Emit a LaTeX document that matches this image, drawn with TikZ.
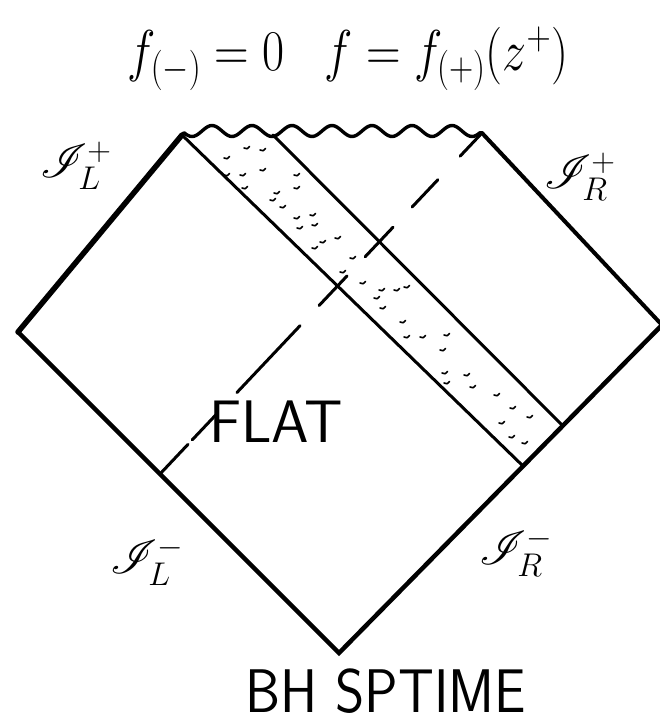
\RequirePackage{fix-cm}
\documentclass[tikz,border=0pt]{standalone}
\usepackage{fontspec}
\usepackage{mathrsfs}
\usetikzlibrary{calc}
\newcommand{\scrilabel}[2]{$\mathscr{I}^{\scriptscriptstyle #1}_{\scriptscriptstyle #2}$}
\begin{document}
\begin{tikzpicture}[x=1pt,y=-1pt,
  edgeline/.style={line width=4.5pt, line cap=round, line join=miter},
  stripline/.style={line width=3pt, line cap=round},
  waveline/.style={line width=3.4pt, line cap=round, line join=round},
  dashline/.style={line width=3pt, line cap=round},
  hatchmark/.style={line width=1.6pt, line cap=round},
  scri/.style={font=\fontsize{24.88}{28}\selectfont, inner sep=0pt, scale=1.9, transform shape},
  capslabel/.style={font=\sffamily\fontsize{#1}{#1}\selectfont, inner sep=0pt},
  formula/.style={font=\fontsize{48}{52}\selectfont, inner sep=0pt}]
\useasboundingbox (0,0) rectangle (660,723);
\clip (0,0) rectangle (660,723);

% corners of the diagram
\coordinate (L) at (18,332);
\coordinate (B) at (339,653);
\coordinate (R) at (662,325);
\coordinate (TL) at (182,135);
\coordinate (TR) at (482,133);
\coordinate (S2) at (273,135);
\coordinate (E1) at (523,466);
\coordinate (E2) at (563,426);
\coordinate (D0) at (160,474);

% outer edges
\draw[edgeline, line width=5.5pt] (L) -- (TL);
\draw[edgeline] (L) -- (B) -- (R);
\draw[edgeline, line width=4pt] (R) -- (TR);

% singular (wavy) top
\draw[waveline] (TL) -- plot[domain=184:480, samples=150, smooth]
  (\x, {131 - 5.5*cos((\x-212)*9)}) -- (TR);

% the shell strip
\draw[stripline] (TL) -- (E1);
\draw[stripline] (S2) -- (E2);

% dashed horizon line
\foreach \a/\b in {0/.087, .10/.177, .239/.435, .494/.581, .637/.724, .783/.863, .932/1}
  \draw[dashline] ($(D0)!\a!(TR)$) -- ($(D0)!\b!(TR)$);

% hatching inside the strip
\foreach \px/\py in {227/158, 247/148, 263/150, 227/175, 243/175, 263/170, 245/188,
  297/175, 297/188, 277/193, 273/200, 283/207, 297/218, 313/215, 300/228, 315/225,
  323/242, 338/238, 315/248, 353/258, 343/272, 363/283, 382/290, 397/290, 407/287,
  377/298, 383/308, 403/322, 407/337, 423/337, 447/335, 443/350, 445/373, 447/383,
  467/375, 473/387, 497/395, 513/408, 530/417, 502/423, 512/437, 525/443}
  \draw[hatchmark] ({\px-3},{\py}) .. controls ({\px},{\py+1.2}) .. ({\px+2.5},{\py-1.5});

% labels
\node[formula, anchor=base, yscale=1.2, transform shape] (title) at (348,70) {$f_{(-)}=0\;\;\; f=f_{(+)}(z^{+})$};
\node[scri] (scriLp) at (76,166) {\scrilabel{+}{L}};
\node[scri] (scriRp) at (580,177) {\scrilabel{+}{R}};
\node[scri] (scriLm) at (147,561) {\scrilabel{-}{L}};
\node[scri] (scriRm) at (516,552) {\scrilabel{-}{R}};
\node[capslabel=60, anchor=base] (flat) at (276,442) {FLAT};
\node[capslabel=56, anchor=base, yscale=1.1, transform shape] (bh) at (386,712) {BH SPTIME};
\end{tikzpicture}
\end{document}
